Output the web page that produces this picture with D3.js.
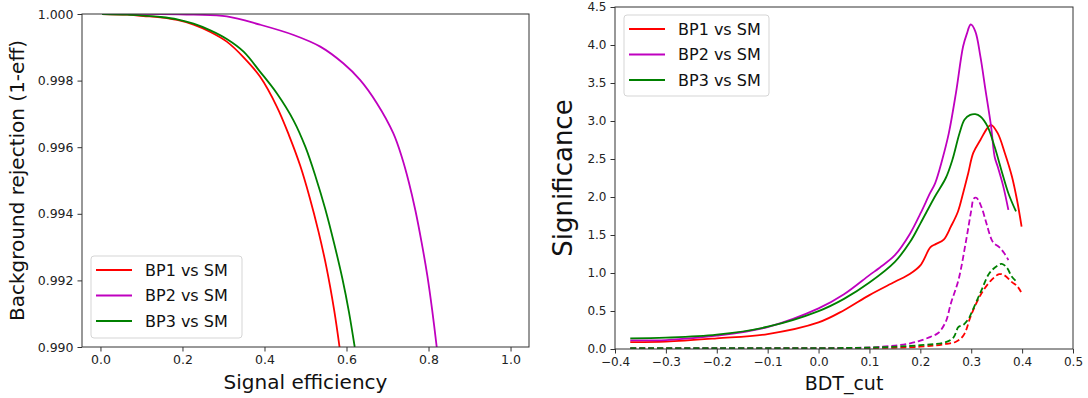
<!DOCTYPE html>
<html><head><meta charset="utf-8">
<script src="https://cdn.jsdelivr.net/npm/d3@7"></script>
<style>body{margin:0;background:#fff}svg{display:block;font-family:"DejaVu Sans",sans-serif}</style>
</head><body><svg id="c" width="1088" height="398"></svg>
<script>
// ---------- Left panel: ROC (signal efficiency vs background rejection) ----------
const rocEffBP1 = [0.004,0.065,0.105,0.146,0.187,0.227,0.268,0.308,0.349,0.389,0.430,0.460,0.487,0.510,0.532,0.551,0.570,0.583];
const rocRejBP1 = [1.0,0.99998,0.99994,0.99990,0.99982,0.99968,0.99946,0.99917,0.99870,0.99812,0.99722,0.99635,0.99545,0.99450,0.99345,0.99240,0.99110,0.990];
const rocEffBP2 = [0.004,0.146,0.227,0.308,0.389,0.471,0.536,0.592,0.633,0.674,0.714,0.735,0.752,0.768,0.783,0.797,0.809,0.820];
const rocRejBP2 = [1.0,1.0,0.99998,0.99993,0.99968,0.99937,0.99902,0.99852,0.99802,0.99732,0.99642,0.99570,0.99495,0.99410,0.99315,0.99215,0.99110,0.990];
const rocEffBP3 = [0.004,0.065,0.105,0.146,0.187,0.227,0.268,0.308,0.349,0.389,0.430,0.471,0.500,0.525,0.548,0.570,0.590,0.606,0.620];
const rocRejBP3 = [1.0,0.99998,0.99995,0.99991,0.99984,0.99971,0.99951,0.99925,0.99887,0.99827,0.99762,0.99680,0.99600,0.99510,0.99415,0.99310,0.99205,0.99105,0.990];
const rocXTicks = [0.0,0.2,0.4,0.6,0.8,1.0];
const rocYTicks = [0.990,0.992,0.994,0.996,0.998,1.000];

// ---------- Right panel: significance vs BDT cut ----------
const cutBP1 = [-0.37,-0.3,-0.2,-0.1,0.0,0.05,0.1,0.15,0.18,0.2,0.22,0.23,0.246,0.26,0.274,0.284,0.294,0.304,0.318,0.332,0.339,0.352,0.366,0.380,0.39,0.399];
const sigBP1 = [0.09,0.096,0.14,0.197,0.35,0.51,0.709,0.884,0.99,1.10,1.34,1.38,1.44,1.61,1.81,2.05,2.31,2.58,2.75,2.91,2.95,2.84,2.58,2.27,1.96,1.61];
const cutBP2 = [-0.37,-0.3,-0.2,-0.1,0.0,0.05,0.1,0.12,0.15,0.18,0.2,0.219,0.229,0.243,0.256,0.27,0.284,0.291,0.299,0.308,0.318,0.328,0.339,0.346,0.352,0.363,0.373];
const sigBP2 = [0.114,0.118,0.175,0.289,0.534,0.72,0.972,1.07,1.234,1.52,1.78,2.05,2.18,2.49,2.84,3.37,3.98,4.14,4.27,4.18,3.85,3.41,2.93,2.53,2.40,2.14,1.83];
const cutBP3 = [-0.37,-0.3,-0.2,-0.1,0.0,0.05,0.1,0.15,0.18,0.2,0.229,0.25,0.263,0.277,0.287,0.298,0.308,0.318,0.332,0.346,0.359,0.373,0.388];
const sigBP3 = [0.14,0.149,0.188,0.293,0.499,0.66,0.875,1.147,1.41,1.65,2.01,2.25,2.49,2.84,3.02,3.08,3.09,3.06,2.93,2.66,2.36,2.05,1.81];

const cutBP1d = [-0.37,-0.2,0.0,0.1,0.2,0.25,0.27,0.285,0.3,0.32,0.34,0.355,0.365,0.38,0.39,0.398];
const sigBP1d = [0.005,0.005,0.008,0.012,0.03,0.066,0.096,0.18,0.45,0.73,0.91,0.985,0.97,0.88,0.83,0.75];
const cutBP2d = [-0.37,-0.2,0.0,0.1,0.15,0.18,0.2,0.22,0.235,0.25,0.26,0.275,0.29,0.3,0.305,0.31,0.32,0.33,0.34,0.345,0.355,0.365,0.373];
const sigBP2d = [0.01,0.01,0.012,0.02,0.045,0.075,0.11,0.16,0.21,0.36,0.60,0.91,1.43,1.82,1.98,1.99,1.87,1.65,1.44,1.39,1.34,1.26,1.17];
const cutBP3d = [-0.37,-0.2,0.0,0.1,0.2,0.25,0.265,0.275,0.285,0.295,0.3,0.32,0.335,0.35,0.36,0.37,0.38,0.39];
const sigBP3d = [0.01,0.01,0.012,0.018,0.05,0.09,0.15,0.29,0.32,0.40,0.47,0.77,0.99,1.09,1.12,1.07,0.95,0.88];
const sigXTicks = [-0.4,-0.3,-0.2,-0.1,0.0,0.1,0.2,0.3,0.4,0.5];
const sigYTicks = [0.0,0.5,1.0,1.5,2.0,2.5,3.0,3.5,4.0,4.5];

const seriesNames = ["BP1 vs SM","BP2 vs SM","BP3 vs SM"];
const seriesColors = ["#ff0000","#bf00bf","#008000"];

const svg = d3.select("#c");
const zip = (a,b)=>a.map((v,i)=>[v,b[i]]);

function panel(opts){
  const g = svg.append("g");
  const x = d3.scaleLinear().domain(opts.xd).range([opts.L,opts.R]);
  const y = d3.scaleLinear().domain(opts.yd).range([opts.B,opts.T]);
  const cid = "clip"+opts.id;
  svg.append("clipPath").attr("id",cid).append("rect")
    .attr("x",opts.L).attr("y",opts.T).attr("width",opts.R-opts.L).attr("height",opts.B-opts.T);
  const line = d3.line().x(d=>x(d[0])).y(d=>y(d[1])).curve(d3.curveCatmullRom.alpha(0.5));
  const lg = g.append("g").attr("clip-path",`url(#${cid})`);
  opts.lines.forEach(l=>{
    lg.append("path").attr("d",line(l.data)).attr("fill","none")
      .attr("stroke",l.color).attr("stroke-width",1.8)
      .attr("stroke-dasharray",l.dash?"6,3":null);
  });
  const xa = g.append("g").attr("transform",`translate(0,${opts.B})`)
    .call(d3.axisBottom(x).tickValues(opts.xt).tickFormat(d3.format(".1f")).tickSizeOuter(0).tickSize(4.5).tickPadding(4));
  const ya = g.append("g").attr("transform",`translate(${opts.L},0)`)
    .call(d3.axisLeft(y).tickValues(opts.yt).tickFormat(d3.format(opts.yf)).tickSizeOuter(0).tickSize(4.5).tickPadding(4));
  [xa,ya].forEach(a=>{
    a.select(".domain").remove();
    a.selectAll("text").attr("font-size",opts.tfs).attr("fill","#222").attr("font-family","DejaVu Sans");
    a.selectAll("line").attr("stroke","#333");
  });
  g.append("rect").attr("x",opts.L).attr("y",opts.T).attr("width",opts.R-opts.L).attr("height",opts.B-opts.T)
    .attr("fill","none").attr("stroke","#333").attr("stroke-width",1);
  g.append("text").attr("x",(opts.L+opts.R)/2).attr("y",opts.xly).attr("text-anchor","middle")
    .attr("font-size",opts.xlfs).attr("fill","#111").text(opts.xl);
  g.append("text").attr("transform",`translate(${opts.ylx},${(opts.T+opts.B)/2}) rotate(-90)`)
    .attr("text-anchor","middle").attr("font-size",opts.ylfs).attr("fill","#111").text(opts.yl);
  // legend
  const lx = opts.leg[0], ly = opts.leg[1], lw = opts.leg[2], lh = opts.leg[3];
  const leg = g.append("g");
  leg.append("rect").attr("x",lx).attr("y",ly).attr("width",lw).attr("height",lh).attr("rx",3)
    .attr("fill","#fff").attr("fill-opacity",0.8).attr("stroke","#d5d5d5");
  seriesNames.forEach((n,i)=>{
    const yy = ly + 14 + i*25.5;
    leg.append("line").attr("x1",lx+5).attr("x2",lx+41).attr("y1",yy).attr("y2",yy)
      .attr("stroke",seriesColors[i]).attr("stroke-width",1.8);
    leg.append("text").attr("x",lx+54).attr("y",yy).attr("dy","0.36em").attr("font-size",16)
      .attr("fill","#111").text(n);
  });
}

panel({id:"L",L:82,R:529,T:14,B:347,xd:[-0.045,1.045],yd:[0.990,1.000],
  xt:rocXTicks,yt:rocYTicks,yf:".3f",tfs:12.5,
  xl:"Signal efficiency",xly:389,xlfs:20,yl:"Background rejection (1-eff)",ylx:24,ylfs:20,
  leg:[91,256,151,82],
  lines:[
    {data:zip(rocEffBP1,rocRejBP1),color:seriesColors[0]},
    {data:zip(rocEffBP2,rocRejBP2),color:seriesColors[1]},
    {data:zip(rocEffBP3,rocRejBP3),color:seriesColors[2]}
  ]});

panel({id:"R",L:615,R:1073,T:7,B:349,xd:[-0.4,0.5],yd:[0,4.5],
  xt:sigXTicks,yt:sigYTicks,yf:".1f",tfs:12,
  xl:"BDT_cut",xly:390,xlfs:19,yl:"Significance",ylx:572,ylfs:26,
  leg:[624,15,145,81],
  lines:[
    {data:zip(cutBP1,sigBP1),color:seriesColors[0]},
    {data:zip(cutBP2,sigBP2),color:seriesColors[1]},
    {data:zip(cutBP3,sigBP3),color:seriesColors[2]},
    {data:zip(cutBP1d,sigBP1d),color:seriesColors[0],dash:true},
    {data:zip(cutBP2d,sigBP2d),color:seriesColors[1],dash:true},
    {data:zip(cutBP3d,sigBP3d),color:seriesColors[2],dash:true}
  ]});
</script></body></html>
